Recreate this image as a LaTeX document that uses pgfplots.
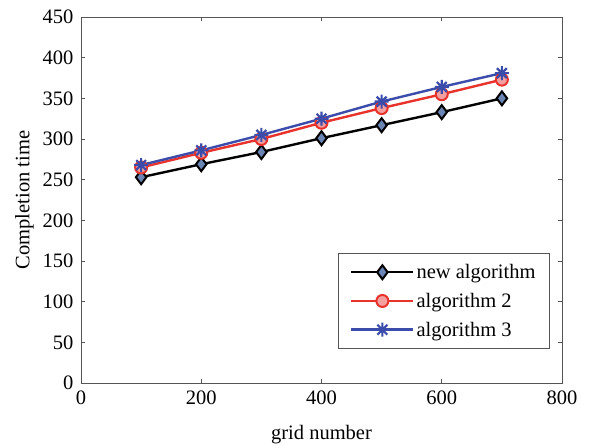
\documentclass[border=0pt]{standalone}
\usepackage{fontspec}
\setmainfont{Liberation Serif}
\usepackage{pgfplots}
\pgfplotsset{compat=1.18}
\definecolor{diafill}{HTML}{6A84B4}
\definecolor{redline}{HTML}{E8322C}
\definecolor{circfill}{HTML}{F4A0A0}
\definecolor{blueline}{HTML}{3C4CAA}
\definecolor{axgray}{HTML}{555555}
% MATLAB-like eight-armed asterisk
\pgfdeclareplotmark{star8}{%
  \pgfpathmoveto{\pgfqpoint{0pt}{\pgfplotmarksize}}\pgfpathlineto{\pgfqpoint{0pt}{-\pgfplotmarksize}}%
  \pgfpathmoveto{\pgfqpoint{\pgfplotmarksize}{0pt}}\pgfpathlineto{\pgfqpoint{-\pgfplotmarksize}{0pt}}%
  \pgfpathmoveto{\pgfqpoint{0.707\pgfplotmarksize}{0.707\pgfplotmarksize}}\pgfpathlineto{\pgfqpoint{-0.707\pgfplotmarksize}{-0.707\pgfplotmarksize}}%
  \pgfpathmoveto{\pgfqpoint{-0.707\pgfplotmarksize}{0.707\pgfplotmarksize}}\pgfpathlineto{\pgfqpoint{0.707\pgfplotmarksize}{-0.707\pgfplotmarksize}}%
  \pgfusepathqstroke}
\begin{document}
\begin{tikzpicture}
\begin{axis}[
    name=ax,
    scale only axis,
    width=481pt, height=366pt,
    xmin=0, xmax=800, ymin=0, ymax=450,
    xtick={0,200,...,800},
    ytick={0,50,...,450},
    tick align=inside,
    major tick length=4pt,
    axis line style={axgray, line width=0.8pt},
    every tick/.style={axgray, line width=0.8pt},
    /pgf/number format/assume math mode=true,
    ticklabel style={font=\fontsize{20.5}{24}\selectfont},
    xticklabel style={yshift=-4pt},
    yticklabel style={xshift=-4pt},
    label style={font=\fontsize{20.5}{24}\selectfont},
    xlabel={grid number},
    ylabel={Completion time},
    xlabel style={yshift=-14pt},
    ylabel style={yshift=2pt},
    legend style={at={(0.975,0.093)}, anchor=south east,
        font=\fontsize{20.5}{24}\selectfont, draw=axgray, line width=0.8pt,
        row sep=9pt, inner xsep=12pt, inner ysep=9pt},
    legend cell align=left,
    legend image code/.code={%
        \draw[mark repeat=2, mark phase=2]
        plot coordinates {(0pt,0pt) (31pt,0pt) (62pt,0pt)};},
]
\addplot[black, line width=2.4pt, mark=diamond*, mark size=7pt,
    mark options={fill=diafill, draw=black, line width=2pt}]
    coordinates {(100,253) (200,269) (300,284) (400,301) (500,317) (600,333) (700,350)};
\addplot[redline, line width=2.4pt, mark=*, mark size=6pt,
    mark options={fill=circfill, draw=redline, line width=2pt}]
    coordinates {(100,265) (200,283) (300,300) (400,320) (500,338) (600,355) (700,373)};
\addplot[blueline, line width=2.4pt, mark=star8, mark size=7pt,
    mark options={draw=blueline, line width=2.2pt}]
    coordinates {(100,268) (200,286) (300,305) (400,325) (500,346) (600,364) (700,381)};
\legend{new algorithm, algorithm 2, algorithm 3}
\end{axis}
\path ([xshift=-81pt,yshift=-59pt]ax.south west) rectangle ([xshift=28pt,yshift=17pt]ax.north east);
\end{tikzpicture}
\end{document}
